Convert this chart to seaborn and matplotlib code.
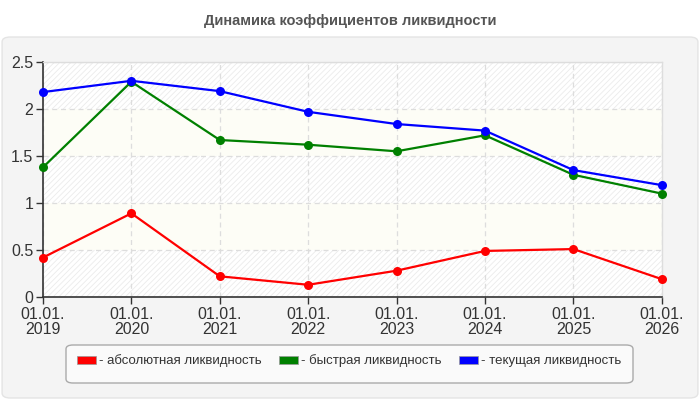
import matplotlib
matplotlib.use("Agg")
import matplotlib.pyplot as plt
from matplotlib.patches import FancyBboxPatch, Patch
import seaborn as sns
import pandas as pd

years = ["2019", "2020", "2021", "2022", "2023", "2024", "2025", "2026"]
tick_labels = ["01.01.\n" + y for y in years]
absolute = [0.42, 0.89, 0.22, 0.13, 0.28, 0.49, 0.51, 0.19]
quick = [1.38, 2.29, 1.67, 1.62, 1.55, 1.72, 1.30, 1.10]
current = [2.18, 2.30, 2.19, 1.97, 1.84, 1.77, 1.35, 1.19]
series_names = ["абсолютная ликвидность", "быстрая ликвидность", "текущая ликвидность"]
colors = ["#ff0000", "#008000", "#0000ff"]
title = "Динамика коэффициентов ликвидности"

sns.set_theme(style="white")
plt.rcParams["font.family"] = ["Liberation Sans", "DejaVu Sans"]
plt.rcParams["hatch.color"] = "#ebebeb"
plt.rcParams["hatch.linewidth"] = 0.6

rows = []
for name, vals in zip(series_names, [absolute, quick, current]):
    for i, v in enumerate(vals):
        rows.append({"x": i, "value": v, "series": name})
df = pd.DataFrame(rows)

fig = plt.figure(figsize=(7, 4), dpi=100)
fig.patch.set_facecolor("white")
panel = FancyBboxPatch((0.003, 0.005), 0.994, 0.9025, boxstyle="round,pad=0,rounding_size=0.012",
                       transform=fig.transFigure, facecolor="#f4f4f4", edgecolor="#e4e4e4",
                       linewidth=1, zorder=0)
fig.patches.append(panel)

# legend frame
legbox = FancyBboxPatch((66 / 700, 1 - 383 / 400), (633 - 66) / 700, 38 / 400,
                        boxstyle="round,pad=0,rounding_size=0.01",
                        transform=fig.transFigure, facecolor="#fafafa", edgecolor="#aaaaaa",
                        linewidth=1, zorder=1)
fig.patches.append(legbox)

ax = fig.add_axes([0.0614, 0.2575, 0.884, 0.5875])
ax.set_facecolor("white")
ax.set_zorder(2)

# alternating bands
for k in range(5):
    lo, hi = k * 0.5, (k + 1) * 0.5
    if k % 2 == 0:
        ax.axhspan(lo, hi, facecolor="white", edgecolor="#ebebeb", hatch="//////", linewidth=0, zorder=0)
    else:
        ax.axhspan(lo, hi, facecolor="#fdfdf6", linewidth=0, zorder=0)

sns.lineplot(data=df, x="x", y="value", hue="series", palette=colors, marker="o",
             markersize=6.5, markeredgewidth=0, linewidth=1.6, ax=ax, legend=False, zorder=3)
for ln in ax.get_lines():
    ln.set_clip_on(False)

ax.set_xlim(0, len(years) - 1)
ax.set_ylim(0, 2.5)
ax.set_xticks(range(len(years)))
ax.set_xticklabels(tick_labels, fontsize=11.5, color="#333333", linespacing=1.0)
ax.set_yticks([0, 0.5, 1, 1.5, 2, 2.5])
ax.set_yticklabels(["0", "0.5", "1", "1.5", "2", "2.5"], fontsize=11.5, color="#333333")
ax.set_xlabel("")
ax.set_ylabel("")
ax.grid(True, color="#dddddd", linestyle=(0, (4, 3)), linewidth=0.9, zorder=1)
ax.set_axisbelow(True)
ax.tick_params(axis="both", which="both", length=5, width=1, color="#333333", pad=2, direction="out")
ax.tick_params(axis="x", bottom=True)
ax.tick_params(axis="y", left=True)
for s in ["left", "bottom"]:
    ax.spines[s].set_color("#333333")
    ax.spines[s].set_linewidth(1.2)
for s in ["top", "right"]:
    ax.spines[s].set_color("#dddddd")
    ax.spines[s].set_linewidth(1)

fig.text(0.5, 0.948, title, ha="center", va="center", fontsize=10.5, fontweight="bold", color="#555555")

handles = [Patch(facecolor=c, edgecolor="#999999", linewidth=0.5) for c in colors]
labels = ["- " + n for n in series_names]
leg = fig.legend(handles, labels, loc="center left", ncol=3, bbox_to_anchor=(77 / 700, 1 - 361 / 400),
                 fontsize=9.5, frameon=False, handlelength=1.45, handleheight=0.55,
                 handletextpad=0.2, columnspacing=1.35, borderpad=0, borderaxespad=0)
leg.set_zorder(3)
for t in leg.get_texts():
    t.set_color("#333333")

fig.savefig("out.png", dpi=100, facecolor=fig.get_facecolor())
